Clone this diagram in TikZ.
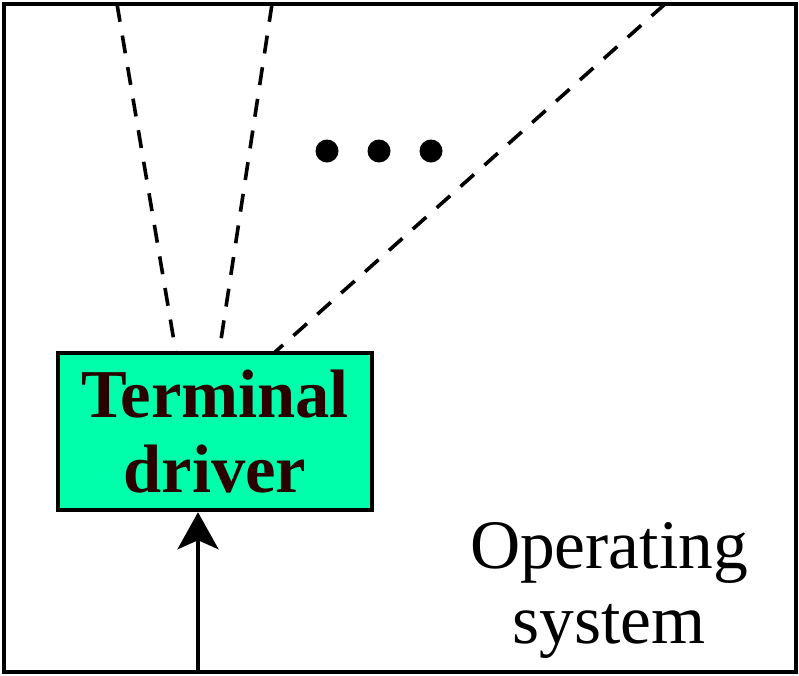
\documentclass[tikz,border=0pt]{standalone}
\usepackage{fontspec}
\setmainfont{Liberation Serif}
\usetikzlibrary{arrows.meta}
\definecolor{mint}{HTML}{00FFAA}
\definecolor{darktext}{HTML}{2B0000}
\tikzset{
  frame/.style={draw=black, line width=4.5pt},
  driverbox/.style={draw=black, line width=4.5pt, fill=mint, minimum width=314pt, minimum height=157pt, inner sep=0pt, text=darktext, align=center, font=\bfseries\fontsize{68.5}{75}\selectfont},
  dashline/.style={draw=black, line width=3.6pt, dash pattern=on 18pt off 14pt},
  inarrow/.style={draw=black, line width=3.6pt, -{Stealth[length=37pt,width=41pt,inset=9pt]}},
  dot/.style={circle, fill=black, inner sep=0pt, minimum size=23pt},
  ostext/.style={align=center, font=\fontsize{69.5}{75}\selectfont}
}
\begin{document}
\begin{tikzpicture}[x=1pt,y=-1pt]
\useasboundingbox (0,0) rectangle (799,675);
\draw[frame] (4,4) rectangle (796,672);
\node[driverbox] (td) at (215,431.5) {Terminal\\driver};
\coordinate (t1) at (117,4);
\coordinate (t2) at (272,4);
\coordinate (t3) at (665,4);
\coordinate (b1) at (176,353);
\coordinate (b2) at (219,353);
\coordinate (b3) at (274,353);
\draw[dashline] (t1) -- (b1);
\draw[dashline] (t2) -- (b2);
\draw[dashline] (t3) -- (b3);
\node[dot] (d1) at (327,151) {};
\node[dot] (d2) at (379,151) {};
\node[dot] (d3) at (431,151) {};
\coordinate (inbot) at (198,672);
\draw[inarrow] (inbot) -- (td.south -| inbot);
\node[ostext] (os) at (609,590) {Operating\\system};
\end{tikzpicture}
\end{document}
